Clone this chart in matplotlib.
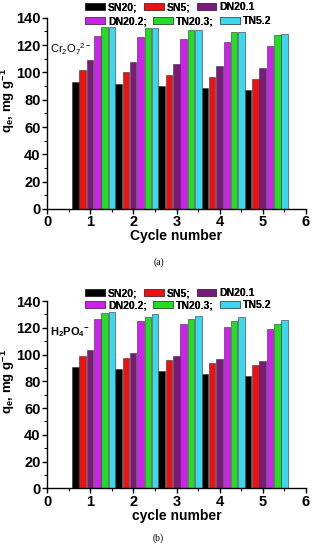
import matplotlib
matplotlib.use("Agg")
import matplotlib.pyplot as plt
import numpy as np

plt.rcParams["font.family"] = ["Liberation Sans", "DejaVu Sans"]
plt.rcParams["mathtext.fontset"] = "custom"
plt.rcParams["mathtext.rm"] = "Liberation Sans"
plt.rcParams["mathtext.it"] = "Liberation Sans:italic"
plt.rcParams["mathtext.bf"] = "Liberation Sans:bold"

cycles = [1, 2, 3, 4, 5]
series = ["SN20", "SN5", "DN20.1", "DN20.2", "TN20.3", "TN5.2"]
colors = ["#000000", "#EE1111", "#7A1A7A", "#D020F0", "#22DD22", "#3ED6EE"]

cr_SN20 = [93.2, 91.5, 90.0, 88.3, 86.9]
cr_SN5 = [101.7, 100.3, 98.3, 96.8, 94.9]
cr_DN201 = [109.0, 107.6, 106.1, 104.7, 103.4]
cr_DN202 = [126.9, 125.9, 124.4, 122.3, 119.6]
cr_TN203 = [133.0, 132.3, 130.8, 129.8, 127.6]
cr_TN52 = [133.0, 132.3, 130.8, 129.8, 128.3]

p_SN20 = [90.9, 89.2, 87.7, 85.4, 83.7]
p_SN5 = [98.9, 97.4, 95.9, 93.9, 92.1]
p_DN201 = [103.1, 101.1, 98.9, 96.6, 95.4]
p_DN202 = [126.8, 125.3, 122.6, 120.6, 118.8]
p_TN203 = [130.8, 128.3, 126.5, 125.0, 122.6]
p_TN52 = [131.8, 130.3, 129.0, 127.8, 126.0]

legend_labels = ["SN20;", "SN5;", "DN20.1", "DN20.2;", "TN20.3;", "TN5.2"]

W, H = 317, 550
fig = plt.figure(figsize=(W / 100, H / 100), dpi=100)
ax1 = fig.add_axes([47 / W, 1 - 209 / H, 259 / W, 191.3 / H])
ax2 = fig.add_axes([47 / W, 1 - 488.3 / H, 259 / W, 187.3 / H])

def draw(ax, data, xlabel, ann, ann_bold, leg_y1, leg_y2):
    step = 0.17
    x = np.array(cycles, dtype=float)
    handles = []
    for i, (vals, c) in enumerate(zip(data, colors)):
        h = ax.bar(x - 0.42 + i * step, vals, width=step * 0.9, align="edge",
                   color=c, edgecolor="#333333", linewidth=0.4)
        handles.append(h)
    ax.set_xlim(0, 6)
    ax.set_ylim(0, 140)
    ax.set_xticks(range(0, 7))
    ax.set_yticks(range(0, 141, 20))
    ax.set_xticks(np.arange(0.5, 6, 1), minor=True)
    ax.set_yticks(range(10, 140, 20), minor=True)
    for s in ["top", "right"]:
        ax.spines[s].set_visible(False)
    for s in ["left", "bottom"]:
        ax.spines[s].set_linewidth(1.0)
    ax.tick_params(axis="both", which="major", labelsize=10.5, length=3.6, width=1, pad=1)
    ax.tick_params(axis="both", which="minor", length=2, width=0.8)
    for lbl in ax.get_xticklabels() + ax.get_yticklabels():
        lbl.set_fontweight("bold")
    ax.set_xlabel(xlabel, fontsize=10, fontweight="bold", labelpad=0)
    ax.set_ylabel(r"q$_\mathbf{e}$, mg g$^\mathbf{-1}$", fontsize=9.5, fontweight="bold")
    ax.yaxis.set_label_coords(-29.5 / 259, 0.57)
    ax.text(0.08, 117, ann, fontsize=8, fontweight="bold" if ann_bold else "normal",
            ha="left", va="center")
    for row, yy in ((0, leg_y1), (1, leg_y2)):
        idx = [3 * row, 3 * row + 1, 3 * row + 2]
        leg = fig.legend([handles[k] for k in idx], [legend_labels[k] for k in idx],
                         ncol=3, loc="center left",
                         bbox_to_anchor=(84 / W, 1 - yy / H),
                         frameon=False, prop={"weight": "bold", "size": 7.5},
                         handlelength=1.9, handleheight=0.75, columnspacing=0.6,
                         handletextpad=0.3, borderpad=0.1, borderaxespad=0)
        fig.add_artist(leg)

draw(ax1, [cr_SN20, cr_SN5, cr_DN201, cr_DN202, cr_TN203, cr_TN52],
     "Cycle number", r"Cr$_2$O$_7$$^{2-}$", False, 7, 21)
draw(ax2, [p_SN20, p_SN5, p_DN201, p_DN202, p_TN203, p_TN52],
     "cycle number", r"H$_\mathbf{2}$PO$_\mathbf{4}$$^\mathbf{-}$", True, 293, 305)

fig.text(0.5, 1 - 262 / H, "(a)", ha="center", va="center", fontsize=7, family="Liberation Serif")
fig.text(0.5, 1 - 538 / H, "(b)", ha="center", va="center", fontsize=7, family="Liberation Serif")

fig.savefig("out.png", dpi=100)
